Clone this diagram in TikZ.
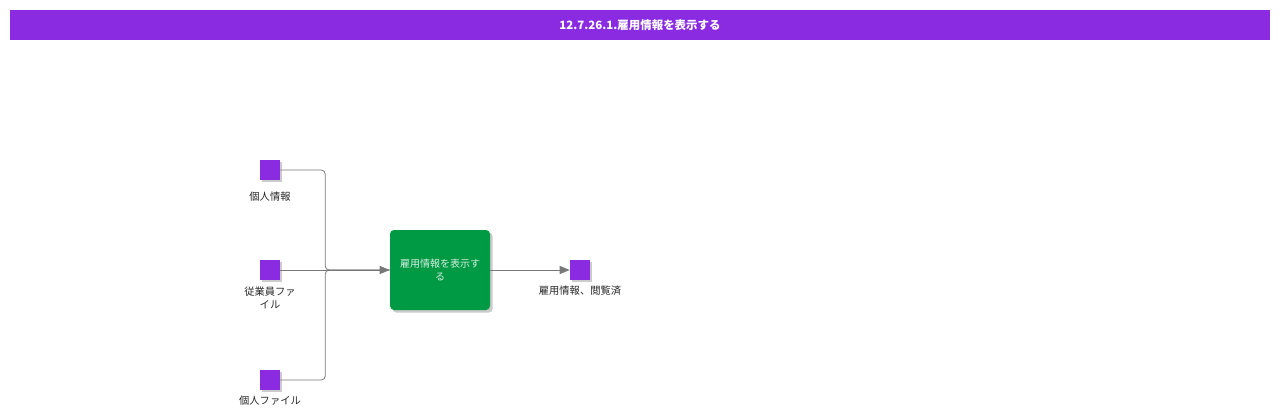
\documentclass[tikz,border=0pt]{standalone}
\usepackage{fontspec}
\setmainfont{Noto Sans CJK JP}
\newfontfamily\cjk{Noto Sans CJK JP}
\usetikzlibrary{arrows.meta,shadows}
\definecolor{hdr}{RGB}{138,43,226}
\definecolor{grn}{RGB}{0,153,68}
\definecolor{ln}{RGB}{120,120,120}
\tikzset{
  sq/.style={fill=hdr,draw=none,minimum size=15pt,inner sep=0,drop shadow={shadow xshift=1.5pt,shadow yshift=-1.5pt,fill=black!40,opacity=0.5}},
  lbl/.style={font=\cjk\fontsize{7.7}{9.5}\selectfont,align=center,text=black!85},
  conn/.style={draw=ln,line width=0.6pt,rounded corners=3pt},
  arr/.style={-{Triangle[length=7.5pt,width=6pt,fill=ln]}}
}
\begin{document}
\begin{tikzpicture}[x=0.75pt,y=-0.75pt]
\useasboundingbox (0,0) rectangle (1280,419);
\fill[white] (0,0) rectangle (1280,419);
\node[fill=hdr,minimum width=945pt,minimum height=22.5pt,inner sep=0,text=white,font=\cjk\bfseries\fontsize{8.6}{10}\selectfont] (title) at (640,25) {12.7.26.1.雇用情報を表示する};
\node[sq] (s1) at (270,170) {};
\node[sq] (s2) at (270,270) {};
\node[sq] (s3) at (270,380) {};
\node[sq] (out) at (580,270) {};
\node[fill=grn,minimum width=75pt,minimum height=60pt,rounded corners=3pt,inner sep=0,
  drop shadow={shadow xshift=2pt,shadow yshift=-2pt,fill=black!40,opacity=0.5},
  text=white!85!grn,font=\cjk\fontsize{7.5}{9.5}\selectfont,align=center] (box) at (440,270) {雇用情報を表示す\\る};
\node[lbl] (l1) at (270,197) {個人情報};
\node[lbl] (l2) at (270,298) {従業員ファ\\イル};
\node[lbl] (l3) at (270,401) {個人ファイル};
\node[lbl] (l4) at (580,291) {雇用情報、閲覧済};
\draw[conn] (s1.east) -- ++(45,0) |- (box.west);
\draw[conn] (s3.east) -- ++(45,0) |- (box.west);
\draw[conn,arr] (s2.east) -- (box.west);
\draw[conn,arr] (box.east) -- (out.west);
\end{tikzpicture}
\end{document}
